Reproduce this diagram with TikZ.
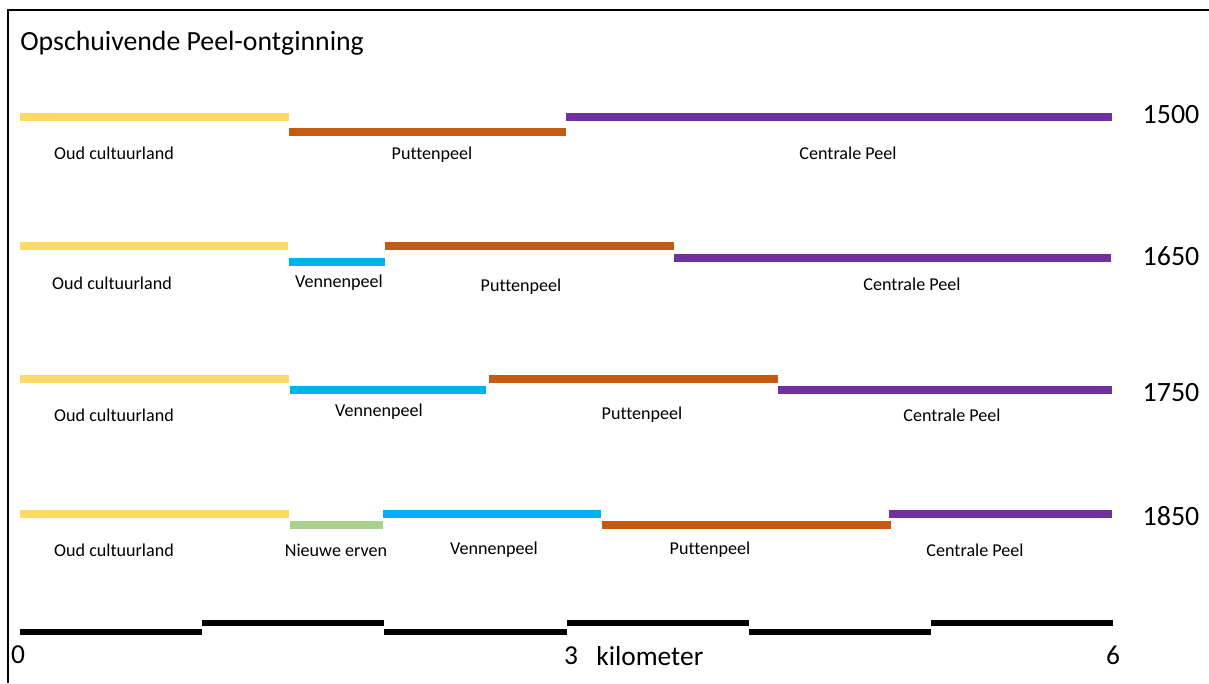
\documentclass[tikz,border=0pt]{standalone}
\usepackage{fontspec}
\setmainfont{Carlito}[Ligatures=NoCommon]
\usepackage{tikz}
\definecolor{oudgeel}{HTML}{FFD966}
\definecolor{puttenbruin}{HTML}{C55A11}
\definecolor{centraalpaars}{HTML}{7030A0}
\definecolor{vennenblauw}{HTML}{00B0F0}
\definecolor{erfgroen}{HTML}{A9D18E}
\tikzset{bar/.style = {line width = 4pt},
  lbl/.style = {font = \fontsize{10.3}{12}\selectfont, inner sep = 0},
  jaar/.style = {font = \fontsize{15.9}{19}\selectfont, inner sep = 0},
  schaal/.style = {font = \fontsize{15.6}{19}\selectfont, inner sep = 0}}

\begin{document}
\begin{tikzpicture}[x=0.02cm, y=-0.02cm]
    \useasboundingbox (0, 0) rectangle (1209, 683);
    \draw [line width = 1.4pt] (8, 683) -- (8, 10) -- (1209, 10);
    \node [anchor = west, font = \fontsize{15.8}{19}\selectfont, inner sep = 0] (titel) at (20, 43) {Opschuivende Peel-ontginning};

    % 1500
    \draw [bar, oudgeel] (20, 117) -- (289, 117);
    \draw [bar, puttenbruin] (289, 132) -- (566, 132);
    \draw [bar, centraalpaars] (566, 117) -- (1112, 117);
    \node [lbl] (oud1500) at (114, 153) {Oud cultuurland};
    \node [lbl] (put1500) at (432, 155) {Puttenpeel};
    \node [lbl] (cen1500) at (848, 153) {Centrale Peel};
    \node [jaar] (j1500) at (1171, 115) {1500};

    % 1650
    \draw [bar, oudgeel] (20, 246) -- (288, 246);
    \draw [bar, vennenblauw] (289, 262) -- (385, 262);
    \draw [bar, puttenbruin] (385, 246) -- (674, 246);
    \draw [bar, centraalpaars] (674, 258) -- (1111, 258);
    \node [lbl] (oud1650) at (112, 283) {Oud cultuurland};
    \node [lbl] (ven1650) at (339, 283) {Vennenpeel};
    \node [lbl] (put1650) at (521, 287) {Puttenpeel};
    \node [lbl] (cen1650) at (912, 284) {Centrale Peel};
    \node [jaar] (j1650) at (1171, 256) {1650};

    % 1750
    \draw [bar, oudgeel] (20, 379) -- (289, 379);
    \draw [bar, vennenblauw] (290, 390) -- (486, 390);
    \draw [bar, puttenbruin] (489, 379) -- (778, 379);
    \draw [bar, centraalpaars] (778, 390) -- (1112, 390);
    \node [lbl] (oud1750) at (114, 415) {Oud cultuurland};
    \node [lbl] (ven1750) at (379, 412) {Vennenpeel};
    \node [lbl] (put1750) at (642, 415) {Puttenpeel};
    \node [lbl] (cen1750) at (952, 415) {Centrale Peel};
    \node [jaar] (j1750) at (1171, 393) {1750};

    % 1850
    \draw [bar, oudgeel] (20, 514) -- (289, 514);
    \draw [bar, erfgroen] (290, 525) -- (383, 525);
    \draw [bar, vennenblauw] (383, 514) -- (601, 514);
    \draw [bar, puttenbruin] (602, 525) -- (891, 525);
    \draw [bar, centraalpaars] (889, 514) -- (1112, 514);
    \node [lbl] (oud1850) at (114, 550) {Oud cultuurland};
    \node [lbl] (nie1850) at (336, 550) {Nieuwe erven};
    \node [lbl] (ven1850) at (494, 550) {Vennenpeel};
    \node [lbl] (put1850) at (710, 550) {Puttenpeel};
    \node [lbl] (cen1850) at (975, 550) {Centrale Peel};
    \node [jaar] (j1850) at (1171, 516) {1850};

    % schaalbalk
    \foreach \k in {0, 2, 4} {
      \draw [line width = 3pt] ({20 + \k*182.2}, 632) -- ({20 + (\k+1)*182.2}, 632);
      \draw [line width = 3pt] ({20 + (\k+1)*182.2}, 623) -- ({20 + (\k+2)*182.2}, 623);
    }
    \node [schaal] (km0) at (18, 655) {0};
    \node [schaal] (km3) at (571, 656) {3};
    \node [schaal, anchor = west] (kmtekst) at (596, 656) {kilometer};
    \node [schaal] (km6) at (1113, 655) {6};
  \end{tikzpicture}
\end{document}
